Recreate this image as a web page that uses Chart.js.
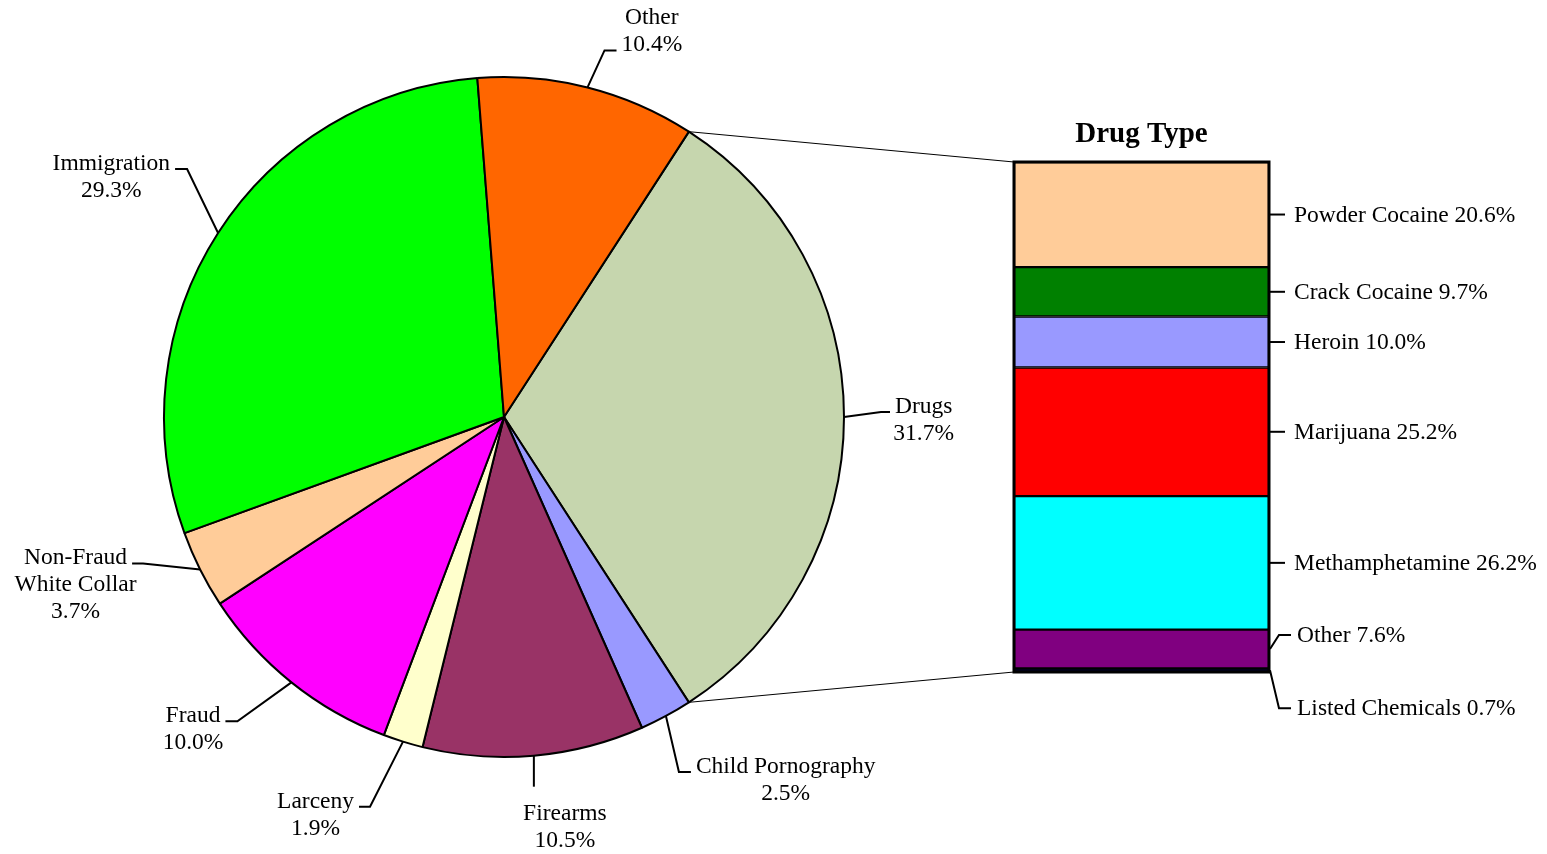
<!DOCTYPE html>
<html lang="en">
<head>
<meta charset="UTF-8">
<title>Offense Type and Drug Type</title>
<script src="https://cdn.jsdelivr.net/npm/chart.js"></script>
<style>
body { margin: 0; background: #fff; }
#wrap { position: relative; width: 1547px; height: 854px; }
#wrap canvas { position: absolute; left: 0; top: 0; }
</style>
</head>
<body>
<div id="wrap">
    <canvas id="pieChart" width="1547" height="854"></canvas>
    <canvas id="barChart" width="1547" height="854"></canvas>
</div>
<script>
var offenses = ['Drugs', 'Child Pornography', 'Firearms', 'Larceny', 'Fraud', 'Non-Fraud\nWhite Collar', 'Immigration', 'Other'];
var offenseShares = [31.7, 2.5, 10.5, 1.9, 10.0, 3.7, 29.3, 10.4];
var offenseColors = ['#C6D6AE', '#9999FF', '#993366', '#FFFFCC', '#FF00FF', '#FFCC99', '#00FF00', '#FF6600'];

var drugTypes = ['Powder Cocaine', 'Crack Cocaine', 'Heroin', 'Marijuana', 'Methamphetamine', 'Other', 'Listed Chemicals'];
var drugShares = [20.6, 9.7, 10.0, 25.2, 26.2, 7.6, 0.7];
var drugColors = ['#FFCC99', '#008000', '#9999FF', '#FF0000', '#00FFFF', '#800080', '#000033'];

var labelFont = '23.5px "Liberation Serif", "Times New Roman", serif';
var titleFont = 'bold 29px "Liberation Serif", "Times New Roman", serif';
var lineHeight = 27;

// where each pie label sits, relative to the point on the rim
var pieLabelLayout = [
    { dx: 37, dy: -5, side: 'right', line: 0, tick: 9 },
    { dx: 13, dy: 56, side: 'right', line: 0, tick: 12 },
    { dx: 0, dy: 31, side: 'below', shift: 31 },
    { dx: -33, dy: 65, side: 'left', line: 0, tick: 11 },
    { dx: -54, dy: 39, side: 'left', line: 0, tick: 12 },
    { dx: -57, dy: -6, side: 'left', line: 0, tick: 11 },
    { dx: -31, dy: -64, side: 'left', line: 0, tick: 12 },
    { dx: 17, dy: -37, side: 'right', line: 1, tick: 12 }
];
// vertical nudge of the drug labels, top to bottom
var barLabelShift = [0, 0, 0, 0, 0, -14, 38];

function total(arr) {
    var s = 0;
    for (var i = 0; i < arr.length; i++) s += arr[i];
    return s;
}

var pieLabels = {
    id: 'pieLabels',
    afterDraw: function (chart) {
        var ctx = chart.ctx;
        var arcs = chart.getDatasetMeta(0).data;
        ctx.save();
        ctx.font = labelFont;
        ctx.fillStyle = '#000';
        ctx.strokeStyle = '#000';
        ctx.lineWidth = 2;
        ctx.textAlign = 'center';
        ctx.textBaseline = 'alphabetic';
        for (var i = 0; i < arcs.length; i++) {
            var a = arcs[i];
            var mid = (a.startAngle + a.endAngle) / 2;
            var ex = a.x + a.outerRadius * Math.cos(mid);
            var ey = a.y + a.outerRadius * Math.sin(mid);
            var lay = pieLabelLayout[i];
            var bx = ex + lay.dx;
            var by = ey + lay.dy;
            var lines = offenses[i].split('\n').concat([offenseShares[i].toFixed(1) + '%']);
            ctx.beginPath();
            ctx.moveTo(ex, ey);
            ctx.lineTo(bx, by);
            var cx, firstBase;
            if (lay.side === 'below') {
                cx = bx + lay.shift;
                firstBase = by + 33;
            } else {
                var dir = lay.side === 'right' ? 1 : -1;
                var tx = bx + dir * lay.tick;
                ctx.lineTo(tx, by);
                var w = ctx.measureText(lines[lay.line]).width;
                cx = tx + dir * (5 + w / 2);
                firstBase = by + 1 - lay.line * lineHeight;
            }
            ctx.stroke();
            for (var j = 0; j < lines.length; j++) {
                ctx.fillText(lines[j], cx, firstBase + j * lineHeight);
            }
        }
        ctx.restore();
    }
};

var pieChart = new Chart(document.getElementById('pieChart').getContext('2d'), {
    type: 'pie',
    data: {
        labels: offenses,
        datasets: [{
            data: offenseShares,
            backgroundColor: offenseColors,
            borderColor: '#000',
            borderWidth: 2
        }]
    },
    options: {
        responsive: false,
        animation: false,
        events: [],
        rotation: 90 - (offenseShares[0] / total(offenseShares)) * 180,
        layout: { padding: { left: 163, right: 702, top: 76, bottom: 96 } },
        plugins: { legend: { display: false }, tooltip: { enabled: false } }
    },
    plugins: [pieLabels]
});

var barDatasets = [];
for (var k = drugTypes.length - 1; k >= 0; k--) {
    barDatasets.push({
        label: drugTypes[k],
        data: [drugShares[k]],
        backgroundColor: drugColors[k],
        borderColor: '#000',
        borderWidth: 1.5,
        borderSkipped: false,
        barPercentage: 1,
        categoryPercentage: 1
    });
}

var barLabels = {
    id: 'barLabels',
    afterDraw: function (chart) {
        var ctx = chart.ctx;
        var n = drugTypes.length;
        var topBar = chart.getDatasetMeta(n - 1).data[0];
        var bottomBar = chart.getDatasetMeta(0).data[0];
        var left = topBar.x - topBar.width / 2;
        var right = topBar.x + topBar.width / 2;
        ctx.save();

        // outer frame of the stacked bar
        ctx.strokeStyle = '#000';
        ctx.lineWidth = 3;
        ctx.strokeRect(left, topBar.y, topBar.width, bottomBar.base - topBar.y);

        // lines from the Drugs slice to the bar
        var drug = pieChart.getDatasetMeta(0).data[0];
        ctx.lineWidth = 1;
        ctx.beginPath();
        ctx.moveTo(drug.x + drug.outerRadius * Math.cos(drug.startAngle), drug.y + drug.outerRadius * Math.sin(drug.startAngle));
        ctx.lineTo(left, topBar.y);
        ctx.moveTo(drug.x + drug.outerRadius * Math.cos(drug.endAngle), drug.y + drug.outerRadius * Math.sin(drug.endAngle));
        ctx.lineTo(left, bottomBar.base);
        ctx.stroke();

        ctx.fillStyle = '#000';
        ctx.font = titleFont;
        ctx.textAlign = 'center';
        ctx.textBaseline = 'alphabetic';
        ctx.fillText('Drug Type', topBar.x, topBar.y - 20);

        ctx.font = labelFont;
        ctx.textAlign = 'left';
        ctx.textBaseline = 'middle';
        ctx.lineWidth = 2;
        for (var i = 0; i < n; i++) {
            var el = chart.getDatasetMeta(n - 1 - i).data[0];
            var mid = (el.y + el.base) / 2;
            var sh = barLabelShift[i];
            var ly = mid + sh;
            var textX;
            ctx.beginPath();
            ctx.moveTo(right + 1, mid);
            if (sh === 0) {
                ctx.lineTo(right + 16, mid);
                textX = right + 25;
            } else {
                ctx.lineTo(right + 10, ly);
                ctx.lineTo(right + 22, ly);
                textX = right + 28;
            }
            ctx.stroke();
            ctx.fillText(drugTypes[i] + ' ' + drugShares[i].toFixed(1) + '%', textX, ly + 1);
        }
        ctx.restore();
    }
};

var barChart = new Chart(document.getElementById('barChart').getContext('2d'), {
    type: 'bar',
    data: {
        labels: ['Drug Type'],
        datasets: barDatasets
    },
    options: {
        responsive: false,
        animation: false,
        events: [],
        layout: { padding: { left: 1014, right: 278, top: 162, bottom: 182 } },
        scales: {
            x: { display: false, stacked: true },
            y: { display: false, stacked: true, min: 0, max: total(drugShares) }
        },
        plugins: { legend: { display: false }, tooltip: { enabled: false } }
    },
    plugins: [barLabels]
});
</script>
</body>
</html>
